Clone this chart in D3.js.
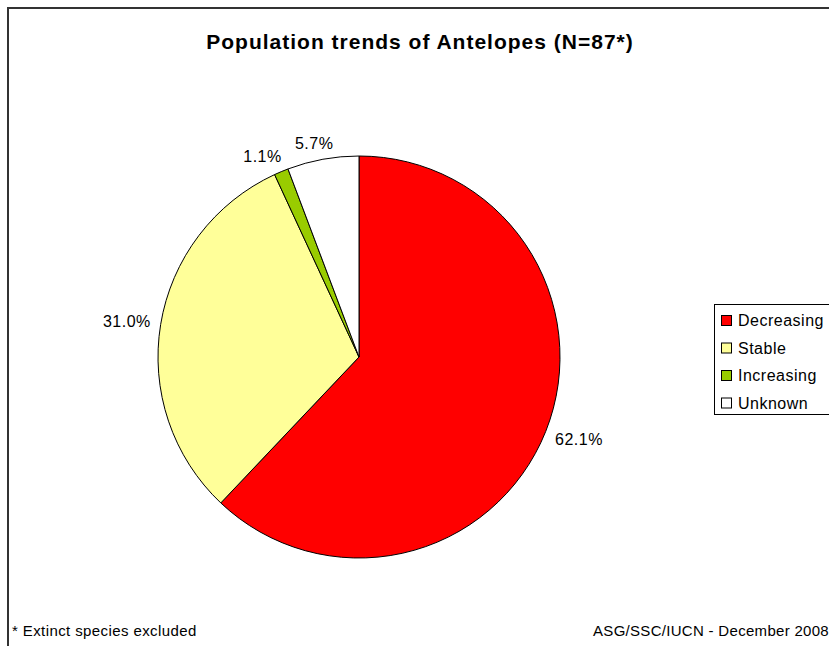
<!DOCTYPE html>
<html>
<head>
<meta charset="utf-8">
<script src="https://cdn.jsdelivr.net/npm/d3@7"></script>
<style>
  body { margin: 0; background: #fff; }
  svg { display: block; font-family: "Liberation Sans", Arial, sans-serif; }
</style>
</head>
<body>
<svg width="829" height="646"></svg>
<script>
var categories = ["Decreasing", "Stable", "Increasing", "Unknown"];
var counts = [54, 27, 1, 5];
var colors = ["#ff0000", "#ffff99", "#99cc00", "#ffffff"];
var title = "Population trends of Antelopes (N=87*)";

var svg = d3.select("svg");
var total = d3.sum(counts);

// chart frame (right and bottom edges fall outside the picture)
svg.append("rect")
    .attr("x", 8).attr("y", 8)
    .attr("width", 840).attr("height", 660)
    .attr("fill", "none")
    .attr("stroke", "#333")
    .attr("stroke-width", 2);

svg.append("text")
    .attr("x", 420).attr("y", 49)
    .attr("text-anchor", "middle")
    .style("font-size", "21px")
    .style("font-weight", "bold")
    .style("letter-spacing", "1px")
    .text(title);

var cx = 359, cy = 357, r = 201;
var pie = d3.pie().sort(null).value(function(d) { return d; });
var arcs = pie(counts);
var arc = d3.arc().innerRadius(0).outerRadius(r);

var g = svg.append("g").attr("transform", "translate(" + cx + "," + cy + ")");

g.selectAll("path")
    .data(arcs).enter()
    .append("path")
    .attr("d", arc)
    .attr("fill", function(d, i) { return colors[i]; })
    .attr("stroke", "#000")
    .attr("stroke-width", 1);

// labels: start at the rim on the mid angle, step out a little,
// then shift the text box away from the pie (excel "outside end" style)
var gap = 10, capH = 12;
var clamp = function(v) { return Math.max(-1, Math.min(1, v)); };
g.selectAll("text.lbl")
    .data(arcs).enter()
    .append("text")
    .attr("class", "lbl")
    .attr("text-anchor", "middle")
    .attr("dy", "0.35em")
    .style("font-size", "16px")
    .style("letter-spacing", "0.5px")
    .text(function(d) { return (d.value / total * 100).toFixed(1) + "%"; })
    .each(function(d) {
        var w = this.getBBox().width;
        var a = (d.startAngle + d.endAngle) / 2;
        var ux = Math.sin(a), uy = -Math.cos(a);
        var x = ux * (r + gap) + clamp(2 * ux) * w / 2;
        var y = uy * (r + gap) + clamp(2 * uy) * capH / 2;
        d3.select(this).attr("transform", "translate(" + x + "," + y + ")");
    });

// legend
var legend = svg.append("g").attr("transform", "translate(714,304)");
legend.append("rect")
    .attr("x", 0.5).attr("y", 0.5)
    .attr("width", 130).attr("height", 110)
    .attr("fill", "#fff")
    .attr("stroke", "#000")
    .attr("stroke-width", 1);

var item = legend.selectAll("g.item")
    .data(categories).enter()
    .append("g")
    .attr("class", "item")
    .attr("transform", function(d, i) { return "translate(0," + (16.5 + i * 27.5) + ")"; });

item.append("rect")
    .attr("x", 7.5).attr("y", -5)
    .attr("width", 10).attr("height", 10)
    .attr("fill", function(d, i) { return colors[i]; })
    .attr("stroke", "#000")
    .attr("stroke-width", 1);

item.append("text")
    .attr("x", 24).attr("dy", "0.35em")
    .style("font-size", "16px")
    .style("letter-spacing", "0.5px")
    .text(function(d) { return d; });

svg.append("text")
    .attr("x", 12).attr("y", 636)
    .style("font-size", "15px")
    .style("letter-spacing", "0.4px")
    .text("* Extinct species excluded");

svg.append("text")
    .attr("x", 829).attr("y", 636)
    .attr("text-anchor", "end")
    .style("font-size", "15px")
    .style("letter-spacing", "0.3px")
    .text("ASG/SSC/IUCN - December 2008");
</script>
</body>
</html>
